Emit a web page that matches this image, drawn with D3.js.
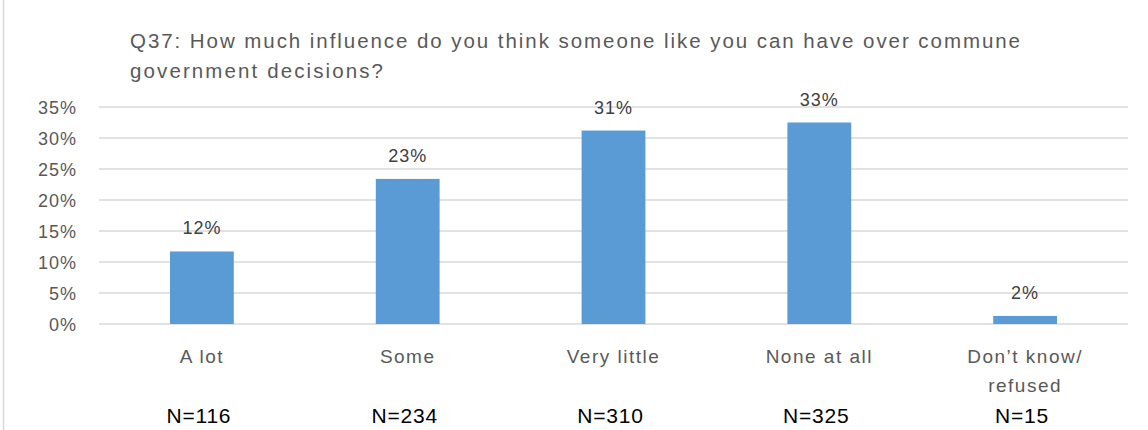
<!DOCTYPE html>
<html>
<head>
<meta charset="utf-8">
<script src="https://cdn.jsdelivr.net/npm/d3@7"></script>
<style>
  html, body { margin: 0; padding: 0; background: #fff; }
  svg { display: block; font-family: "Liberation Sans", Arial, sans-serif; }
</style>
</head>
<body>
<svg id="chart" width="1148" height="430"></svg>
<script>
const titleLines = ["Q37: How much influence do you think someone like you can have over commune", "government decisions?"];
const categories = ["A lot", "Some", "Very little", "None at all", "Don\u2019t know/\nrefused"];
const values = [0.117, 0.234, 0.312, 0.325, 0.013];
const valueLabels = ["12%", "23%", "31%", "33%", "2%"];
const nLabels = ["N=116", "N=234", "N=310", "N=325", "N=15"];
const yTicks = [0, 0.05, 0.10, 0.15, 0.20, 0.25, 0.30, 0.35];

const svg = d3.select("#chart");
const W = 1148, H = 430;
const plot = { left: 99, right: 1128, top: 107, bottom: 324 };
const titleWidths = [890, 253];

svg.append("rect").attr("width", W).attr("height", H).attr("fill", "#fff");
svg.append("line").attr("x1", 3.5).attr("x2", 3.5).attr("y1", 0).attr("y2", H)
  .attr("stroke", "#d9d9d9").attr("stroke-width", 1.5);

const x = d3.scaleBand().domain(categories).range([plot.left, plot.right])
  .paddingInner(0.69).paddingOuter(0.345);
const y = d3.scaleLinear().domain([0, 0.35]).range([plot.bottom, plot.top]);

// gridlines
svg.append("g").selectAll("line").data(yTicks).join("line")
  .attr("x1", plot.left).attr("x2", plot.right)
  .attr("y1", d => y(d)).attr("y2", d => y(d))
  .attr("stroke", "#d9d9d9").attr("stroke-width", 1.5);

// y axis labels
const yAxis = d3.axisLeft(y).tickValues(yTicks).tickFormat(d3.format(".0%")).tickSize(0).tickPadding(0);
const yg = svg.append("g").attr("transform", `translate(77,0)`).call(yAxis);
yg.select(".domain").remove();
yg.selectAll("text").attr("fill", "#595959").style("font-size", "18px")
  .style("letter-spacing", "1px")
  .style("font-family", "Liberation Sans, Arial, sans-serif").attr("dy", "0.35em");

// title
const t = svg.append("text").attr("fill", "#595959").style("font-size", "20.5px");
titleLines.forEach((line, i) => {
  t.append("tspan").attr("x", 130).attr("y", 48 + i * 30)
    .attr("textLength", titleWidths[i]).attr("lengthAdjust", "spacing").text(line);
});

// bars
const data = categories.map((c, i) => ({ c, v: values[i], lab: valueLabels[i], n: nLabels[i] }));
svg.append("g").selectAll("rect").data(data).join("rect")
  .attr("x", d => x(d.c)).attr("width", x.bandwidth())
  .attr("y", d => y(d.v)).attr("height", d => y(0) - y(d.v))
  .attr("fill", "#5b9bd5");

// value labels
svg.append("g").selectAll("text").data(data).join("text")
  .attr("x", d => x(d.c) + x.bandwidth() / 2).attr("y", d => y(d.v) - 17)
  .attr("text-anchor", "middle").attr("fill", "#404040").style("font-size", "18px")
  .style("letter-spacing", "1px")
  .text(d => d.lab);

// category labels
const xl = svg.append("g").selectAll("text").data(data).join("text")
  .attr("text-anchor", "middle").attr("fill", "#595959").style("font-size", "19px")
  .style("letter-spacing", "1.5px");
xl.each(function(d) {
  const parts = d.c.split("\n");
  const el = d3.select(this);
  parts.forEach((p, i) => {
    el.append("tspan").attr("x", x(d.c) + x.bandwidth() / 2).attr("y", 363 + i * 29).text(p);
  });
});

// N labels
svg.append("g").selectAll("text").data(data).join("text")
  .attr("x", d => x(d.c) + x.bandwidth() / 2 - 3).attr("y", 423)
  .attr("text-anchor", "middle").attr("fill", "#000").style("font-size", "21px")
  .style("letter-spacing", "0.8px")
  .text(d => d.n);
</script>
</body>
</html>
